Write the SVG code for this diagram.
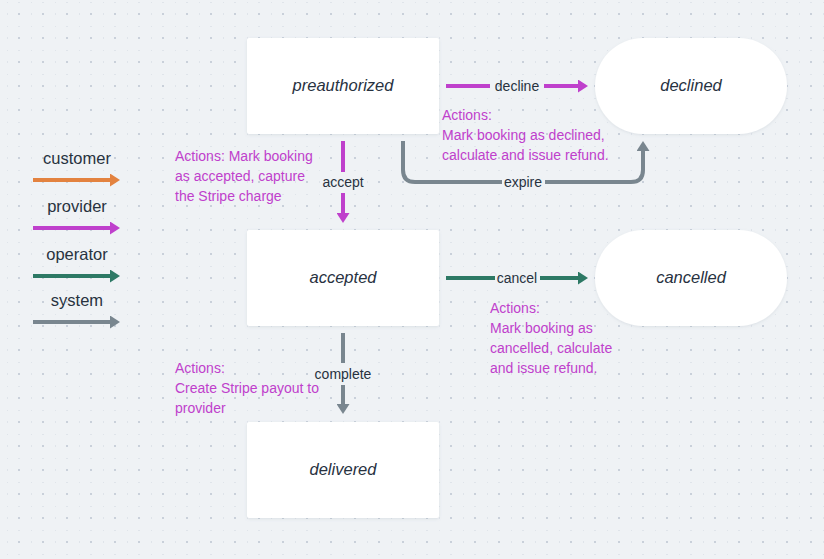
<svg xmlns="http://www.w3.org/2000/svg" width="824" height="559" viewBox="0 0 824 559">
<style>
.node{fill:#ffffff;filter:url(#sh)}
.nl{font-family:"Liberation Sans",Arial,sans-serif;font-size:16.5px;font-style:italic;fill:#28323f;text-anchor:middle}
.el{font-family:"Liberation Sans",Arial,sans-serif;font-size:14px;fill:#28323f;text-anchor:middle}
.lg{font-family:"Liberation Sans",Arial,sans-serif;font-size:16.5px;fill:#28323f;text-anchor:middle}
.act{font-family:"Liberation Sans",Arial,sans-serif;font-size:14px;fill:#bf40cc}
.ln{fill:none;stroke-width:4}
.mag{stroke:#bf40cc}.org{stroke:#e3823f}.grn{stroke:#2d7965}.gry{stroke:#79868f}
</style>
<defs>
<pattern id="dots" x="7" y="2" width="24" height="24" patternUnits="userSpaceOnUse">
<rect x="-1" y="-1" width="2" height="2" fill="#dfe4ea"/>
<rect x="11" y="-1" width="2" height="2" fill="#dfe4ea"/>
<rect x="-1" y="11" width="2" height="2" fill="#dfe4ea"/>
<rect x="11" y="11" width="2" height="2" fill="#c9d0da"/>
</pattern>
<filter id="sh" x="-10%" y="-10%" width="120%" height="130%">
<feDropShadow dx="0" dy="1" stdDeviation="1.5" flood-color="#8090a0" flood-opacity="0.18"/>
</filter>
<marker id="amag" viewBox="0 0 10 13" refX="1" refY="6.5" markerWidth="10" markerHeight="13" markerUnits="userSpaceOnUse" orient="auto"><path d="M0 0L10 6.5L0 13z" fill="#bf40cc"/></marker>
<marker id="aorg" viewBox="0 0 10 13" refX="1" refY="6.5" markerWidth="10" markerHeight="13" markerUnits="userSpaceOnUse" orient="auto"><path d="M0 0L10 6.5L0 13z" fill="#e3823f"/></marker>
<marker id="agrn" viewBox="0 0 10 13" refX="1" refY="6.5" markerWidth="10" markerHeight="13" markerUnits="userSpaceOnUse" orient="auto"><path d="M0 0L10 6.5L0 13z" fill="#2d7965"/></marker>
<marker id="agry" viewBox="0 0 10 13" refX="1" refY="6.5" markerWidth="10" markerHeight="13" markerUnits="userSpaceOnUse" orient="auto"><path d="M0 0L10 6.5L0 13z" fill="#79868f"/></marker>
</defs>
<rect width="824" height="559" fill="#eff2f5"/>
<rect width="824" height="559" fill="url(#dots)"/>

<g id="legend">
<text class="lg" x="77" y="164">customer</text>
<path class="ln org" d="M33 180H111" marker-end="url(#aorg)"/>
<text class="lg" x="77" y="212">provider</text>
<path class="ln mag" d="M33 228H111" marker-end="url(#amag)"/>
<text class="lg" x="77" y="260">operator</text>
<path class="ln grn" d="M33 276H111" marker-end="url(#agrn)"/>
<text class="lg" x="77" y="306">system</text>
<path class="ln gry" d="M33 322H111" marker-end="url(#agry)"/>
</g>

<g id="preauthorized"><rect class="node" x="247" y="38" width="192" height="96" rx="2"/><text class="nl" x="343" y="91">preauthorized</text></g>
<g id="declined"><rect class="node" x="595" y="38" width="192" height="96" rx="48"/><text class="nl" x="691" y="91">declined</text></g>
<g id="accepted"><rect class="node" x="247" y="230" width="192" height="96" rx="2"/><text class="nl" x="343" y="283">accepted</text></g>
<g id="cancelled"><rect class="node" x="595" y="230" width="192" height="96" rx="48"/><text class="nl" x="691" y="283">cancelled</text></g>
<g id="delivered"><rect class="node" x="247" y="422" width="192" height="96" rx="2"/><text class="nl" x="343" y="475">delivered</text></g>

<g id="connectors">
<path class="ln mag" d="M446 86H490M544 86H579" marker-end="url(#amag)"/>
<text class="el" x="517" y="91">decline</text>
<text class="act" x="442" y="120">Actions:</text>
<text class="act" x="442" y="140">Mark booking as declined,</text>
<text class="act" x="442" y="160">calculate and issue refund.</text>

<path class="ln gry" d="M403 141V170Q403 182 415 182H502M545 182H631Q643 182 643 170V150" marker-end="url(#agry)"/>
<text class="el" x="523" y="187">expire</text>

<path class="ln mag" d="M343 141V172M343 193V214" marker-end="url(#amag)"/>
<text class="el" x="343" y="187">accept</text>
<text class="act" x="175" y="161">Actions: Mark booking</text>
<text class="act" x="175" y="181">as accepted, capture</text>
<text class="act" x="175" y="201">the Stripe charge</text>

<path class="ln grn" d="M446 278H495M540 278H579" marker-end="url(#agrn)"/>
<text class="el" x="517" y="283">cancel</text>
<text class="act" x="490" y="313">Actions:</text>
<text class="act" x="490" y="333">Mark booking as</text>
<text class="act" x="490" y="353">cancelled, calculate</text>
<text class="act" x="490" y="373">and issue refund.</text>

<path class="ln gry" d="M343 333V363M343 385V405" marker-end="url(#agry)"/>
<text class="el" x="343" y="379">complete</text>
<text class="act" x="175" y="373">Actions:</text>
<text class="act" x="175" y="393">Create Stripe payout to</text>
<text class="act" x="175" y="413">provider</text>
</g>
</svg>
